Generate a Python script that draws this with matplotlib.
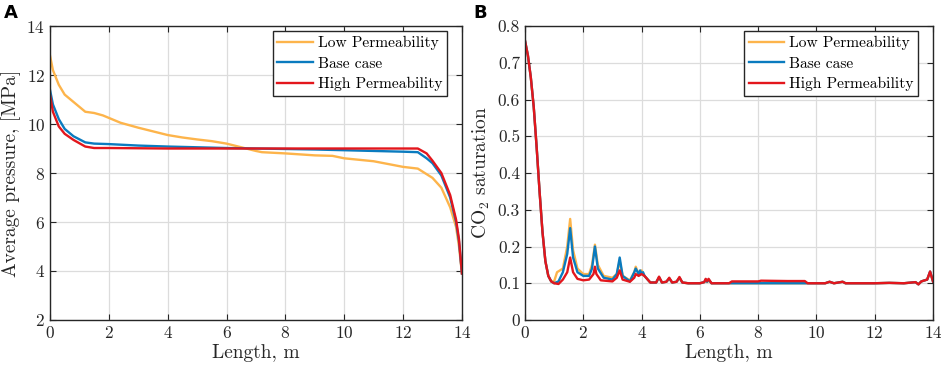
import matplotlib.pyplot as plt

plt.rcParams["font.family"] = "cmr10"
plt.rcParams["mathtext.fontset"] = "cm"
plt.rcParams["axes.formatter.use_mathtext"] = True

LABELS = ["Low Permeability", "Base case", "High Permeability"]
COLORS = ["#FDB44B", "#0A7BBF", "#E3161C"]

# Panel A: average pressure [MPa] vs length [m]
p_low_x = [0, 0.1, 0.3, 0.5, 0.8, 1.2, 1.5, 1.8, 2.0, 2.4, 3.0, 3.5, 4.0, 4.5, 5.0, 5.5,
           6.0, 6.5, 7.0, 7.2, 8.0, 9.0, 9.6, 10.0, 11.0, 12.0, 12.5, 13.0, 13.3, 13.6,
           13.8, 13.9, 14.0]
p_low_y = [12.8, 12.2, 11.6, 11.2, 10.9, 10.5, 10.45, 10.35, 10.25, 10.05, 9.85, 9.7, 9.55,
           9.45, 9.37, 9.3, 9.2, 9.05, 8.9, 8.85, 8.8, 8.72, 8.7, 8.6, 8.48, 8.25, 8.18, 7.8,
           7.4, 6.6, 5.8, 5.0, 3.9]
p_base_x = [0, 0.1, 0.3, 0.5, 0.8, 1.2, 1.5, 2.0, 3.0, 4.0, 5.0, 6.0, 7.0, 8.0, 9.0, 10.0,
            11.0, 12.0, 12.5, 12.8, 13.0, 13.3, 13.6, 13.8, 13.9, 14.0]
p_base_y = [11.4, 10.8, 10.2, 9.8, 9.5, 9.25, 9.2, 9.18, 9.12, 9.08, 9.05, 9.02, 9.0, 8.98,
            8.96, 8.93, 8.9, 8.87, 8.85, 8.6, 8.4, 7.9, 7.0, 6.0, 5.2, 3.9]
p_high_x = [0, 0.1, 0.3, 0.5, 0.8, 1.2, 1.5, 2.0, 4.0, 8.0, 12.0, 12.5, 12.8, 13.0, 13.3,
            13.6, 13.8, 13.9, 14.0]
p_high_y = [11.2, 10.5, 9.9, 9.6, 9.35, 9.08, 9.02, 9.02, 9.0, 9.0, 9.0, 9.0, 8.8, 8.5, 8.0,
            7.1, 6.1, 5.3, 3.9]

# Panel B: CO2 saturation vs length [m]
s_head_x = [0, 0.1, 0.2, 0.3, 0.4, 0.5, 0.6, 0.7, 0.8, 0.9]
s_head_y = [0.76, 0.72, 0.66, 0.58, 0.47, 0.35, 0.24, 0.16, 0.12, 0.105]

s_low_x = s_head_x + [1.0, 1.1, 1.3, 1.45, 1.55, 1.65, 1.8, 2.0, 2.2, 2.3, 2.4, 2.5, 2.7,
                      3.0, 3.15, 3.25, 3.35, 3.6, 3.75, 3.8, 3.9, 4.0, 4.1, 4.3, 4.5, 4.6,
                      4.7, 4.85, 4.95, 5.05, 5.2, 5.3, 5.4, 5.6, 6.0, 6.15, 6.2, 6.25, 6.3,
                      6.4, 7.0, 9.6, 9.7, 10.3, 10.45, 10.6, 10.9, 11.0, 12.0, 12.5, 13.0,
                      13.4, 13.5, 13.6, 13.8, 13.9, 14.0]
s_low_y = s_head_y + [0.105, 0.13, 0.14, 0.2, 0.275, 0.19, 0.14, 0.125, 0.125, 0.15, 0.205,
                      0.15, 0.12, 0.115, 0.125, 0.16, 0.12, 0.108, 0.13, 0.145, 0.125, 0.135,
                      0.12, 0.102, 0.102, 0.115, 0.102, 0.104, 0.112, 0.102, 0.104, 0.114,
                      0.102, 0.1, 0.1, 0.103, 0.108, 0.103, 0.108, 0.1, 0.1, 0.1, 0.1, 0.1,
                      0.104, 0.1, 0.104, 0.1, 0.1, 0.101, 0.1, 0.103, 0.097, 0.105, 0.11,
                      0.13, 0.105]
s_base_x = s_head_x + [1.0, 1.15, 1.3, 1.45, 1.55, 1.65, 1.8, 2.0, 2.2, 2.3, 2.4, 2.5, 2.7,
                       3.0, 3.15, 3.25, 3.35, 3.6, 3.75, 3.8, 3.9, 3.95, 4.0, 4.05, 4.1, 4.3,
                       4.5, 4.6, 4.7, 4.85, 4.95, 5.05, 5.2, 5.3, 5.4, 5.6, 6.0, 6.15, 6.2,
                       6.25, 6.3, 6.4, 7.0, 9.6, 9.7, 10.3, 10.45, 10.6, 10.9, 11.0, 12.0,
                       12.5, 13.0, 13.4, 13.5, 13.6, 13.8, 13.9, 14.0]
s_base_y = s_head_y + [0.1, 0.105, 0.13, 0.18, 0.25, 0.17, 0.13, 0.12, 0.12, 0.14, 0.2, 0.14,
                       0.115, 0.11, 0.125, 0.17, 0.12, 0.105, 0.13, 0.14, 0.125, 0.135, 0.125,
                       0.13, 0.12, 0.102, 0.102, 0.116, 0.102, 0.104, 0.113, 0.102, 0.104,
                       0.115, 0.102, 0.1, 0.1, 0.103, 0.11, 0.104, 0.11, 0.1, 0.1, 0.1, 0.1,
                       0.1, 0.104, 0.1, 0.104, 0.1, 0.1, 0.101, 0.1, 0.103, 0.097, 0.105,
                       0.11, 0.132, 0.105]
s_high_x = s_head_x + [1.0, 1.15, 1.3, 1.45, 1.55, 1.65, 1.8, 2.0, 2.2, 2.35, 2.4, 2.45, 2.6,
                       3.0, 3.15, 3.25, 3.35, 3.6, 3.75, 3.8, 3.9, 4.0, 4.1, 4.3, 4.5, 4.6,
                       4.7, 4.85, 4.95, 5.05, 5.2, 5.3, 5.4, 5.6, 6.0, 6.15, 6.2, 6.25, 6.3,
                       6.4, 7.0, 7.1, 8.0, 8.1, 9.0, 9.6, 9.7, 10.3, 10.45, 10.6, 10.9, 11.0,
                       12.0, 12.5, 13.0, 13.4, 13.5, 13.6, 13.8, 13.9, 14.0]
s_high_y = s_head_y + [0.1, 0.098, 0.11, 0.13, 0.17, 0.13, 0.112, 0.108, 0.11, 0.125, 0.145,
                       0.125, 0.108, 0.105, 0.115, 0.135, 0.11, 0.104, 0.115, 0.125, 0.12,
                       0.125, 0.12, 0.102, 0.102, 0.118, 0.102, 0.104, 0.115, 0.102, 0.104,
                       0.117, 0.102, 0.1, 0.1, 0.103, 0.112, 0.106, 0.112, 0.1, 0.1, 0.105,
                       0.105, 0.107, 0.106, 0.106, 0.1, 0.1, 0.104, 0.1, 0.104, 0.1, 0.1,
                       0.101, 0.1, 0.103, 0.097, 0.105, 0.11, 0.132, 0.105]


def style_axes(ax):
    ax.set_xlim(0, 14)
    ax.set_xticks(range(0, 15, 2))
    ax.grid(True, color="#dcdcdc", linewidth=0.9)
    ax.set_axisbelow(True)
    ax.tick_params(direction="in", top=True, right=True, labelsize=12.5,
                   colors="#262626", length=4, width=0.8)
    for s in ax.spines.values():
        s.set_color("#262626")
        s.set_linewidth(1.0)
    ax.set_xlabel("Length, m", fontsize=14, color="#262626", labelpad=2)
    leg = ax.legend(loc="upper right", bbox_to_anchor=(0.964, 0.982), borderaxespad=0,
                    fontsize=11.2, fancybox=False, framealpha=1, edgecolor="#262626",
                    handlelength=2.3, borderpad=0.3, labelspacing=0.42, handletextpad=0.3)
    leg.get_frame().set_linewidth(1.0)


fig = plt.figure(figsize=(9.41, 3.69), dpi=100)
ax1 = fig.add_axes([0.0531, 0.1328, 0.4378, 0.7967])
ax2 = fig.add_axes([0.5579, 0.1328, 0.4336, 0.7967])

for x, y, lab, c in zip([p_low_x, p_base_x, p_high_x], [p_low_y, p_base_y, p_high_y],
                        LABELS, COLORS):
    ax1.plot(x, y, color=c, linewidth=1.7, label=lab)
ax1.set_ylim(2, 14)
ax1.set_yticks(range(2, 15, 2))
ax1.set_ylabel("Average pressure, [MPa]", fontsize=14, color="#262626", labelpad=4)
style_axes(ax1)

for x, y, lab, c in zip([s_low_x, s_base_x, s_high_x], [s_low_y, s_base_y, s_high_y],
                        LABELS, COLORS):
    ax2.plot(x, y, color=c, linewidth=1.7, label=lab)
ax2.set_ylim(0, 0.8)
ax2.set_yticks([0, 0.1, 0.2, 0.3, 0.4, 0.5, 0.6, 0.7, 0.8])
ax2.set_yticklabels(["0", "0.1", "0.2", "0.3", "0.4", "0.5", "0.6", "0.7", "0.8"])
ax2.set_ylabel(r"CO$_2$ saturation", fontsize=14, color="#262626", labelpad=4)
style_axes(ax2)

fig.text(0.004, 0.965, "A", fontsize=13, fontweight="bold", family="DejaVu Sans",
         va="center", ha="left")
fig.text(0.503, 0.965, "B", fontsize=13, fontweight="bold", family="DejaVu Sans",
         va="center", ha="left")

fig.savefig("out.png", dpi=100)
